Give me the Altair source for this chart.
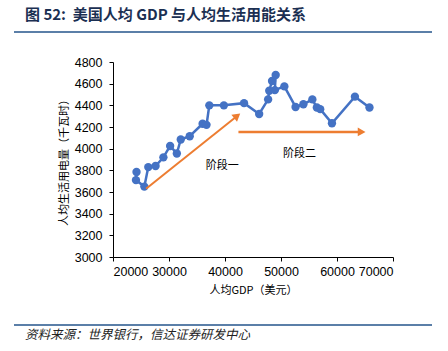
import altair as alt
import pandas as pd

# Data
gdp = [24200, 24100, 25600, 26300, 27600, 29000, 30200, 31400, 32100, 33700,
       36000, 36700, 37200, 39800, 43400, 46100, 47700, 47900, 48400, 49050,
       48900, 50600, 52600, 54000, 55600, 56400, 57000, 59100, 63200, 65800]
elec = [3785, 3710, 3650, 3830, 3840, 3920, 4025, 3955, 4085, 4115,
        4230, 4220, 4400, 4400, 4420, 4320, 4455, 4535, 4625, 4680,
        4540, 4575, 4385, 4410, 4455, 4380, 4365, 4235, 4480, 4380]

arrow_x = [25900, 42000]
arrow_y = [3630, 4295]
arrow2_x = [42400, 64400]
arrow2_y = [4155, 4155]
stage_labels = ["阶段一", "阶段二"]
stage_x = [39500, 53300]
stage_y = [3840, 3950]

x_ticks = [20000, 30000, 40000, 50000, 60000, 70000]
y_ticks = [3000, 3200, 3400, 3600, 3800, 4000, 4200, 4400, 4600, 4800]

title_text = "图 52:\u00a0\u00a0美国人均 GDP 与人均生活用能关系"
source_text = "资料来源：世界银行，信达证券研发中心"

df = pd.DataFrame({"gdp": gdp, "elec": elec, "order": list(range(len(gdp)))})
a1 = pd.DataFrame({"gdp": arrow_x, "elec": arrow_y})
a2 = pd.DataFrame({"gdp": arrow2_x, "elec": arrow2_y})
lab = pd.DataFrame({"t": stage_labels, "gdp": stage_x, "elec": stage_y})

FONT = "Liberation Sans"
CJK = "Noto Sans CJK SC"

xs = alt.Scale(domain=[20000, 70000], nice=False)
ys = alt.Scale(domain=[3000, 4800], nice=False, zero=False)

xax = alt.Axis(values=x_ticks, grid=False, format="d", labelOverlap=False,
               labelFont=FONT, labelFontSize=12.5, labelColor="#000", title="人均GDP（美元）",
               titleFont=CJK, titleFontSize=11, titleFontWeight="normal", titleColor="#000",
               domainColor="#000", tickColor="#000", tickSize=4, labelPadding=4, titlePadding=7)
yax = alt.Axis(values=y_ticks, grid=False, format="d", labelOverlap=False,
               labelFont=FONT, labelFontSize=12.5, labelColor="#000", title="人均生活用电量（千瓦时）",
               titleFont=CJK, titleFontSize=11, titleFontWeight="normal", titleColor="#000",
               domainColor="#000", tickColor="#000", tickSize=4, labelPadding=7, titlePadding=5)

X = alt.X("gdp:Q", scale=xs, axis=xax)
Y = alt.Y("elec:Q", scale=ys, axis=yax)

base = alt.Chart(df)
line = base.mark_line(color="#4472C4", strokeWidth=2.5).encode(x=X, y=Y, order="order:Q")
pts = base.mark_circle(color="#4472C4", size=70, opacity=1).encode(x=X, y=Y)

arr1 = alt.Chart(a1).mark_line(color="#ED7D31", strokeWidth=2).encode(x=X, y=Y)
arr2 = alt.Chart(a2).mark_line(color="#ED7D31", strokeWidth=2.5).encode(x=X, y=Y)

head1 = alt.Chart(a1.iloc[[1]]).mark_point(shape="triangle", filled=True, color="#ED7D31",
                                           size=80, opacity=1, angle=51).encode(x=X, y=Y)
head2 = alt.Chart(a2.iloc[[1]]).mark_point(shape="triangle-right", filled=True, color="#ED7D31",
                                           size=80, opacity=1).encode(x=X, y=Y)

labels = alt.Chart(lab).mark_text(font=CJK, fontSize=11, color="#000").encode(
    x=X, y=Y, text="t:N")

deco = pd.DataFrame({"a": [0]})
title = alt.Chart(deco).mark_text(text=title_text, font=CJK, fontSize=15, fontWeight="bold",
                                  color="#1B2F52", align="left", baseline="middle").encode(
    x=alt.value(-88), y=alt.value(-47))
tline = alt.Chart(deco).mark_rule(color="#5B7FA8", strokeWidth=2).encode(
    x=alt.value(-99), x2=alt.value(319), y=alt.value(-30))
bline = alt.Chart(deco).mark_rule(color="#5B7FA8", strokeWidth=2).encode(
    x=alt.value(-99), x2=alt.value(319), y=alt.value(263))
src = alt.Chart(deco).mark_text(text=source_text, font=CJK, fontSize=12.5, fontStyle="italic",
                                color="#222", align="left", baseline="middle").encode(
    x=alt.value(-88), y=alt.value(273))

chart = alt.layer(line, pts, arr1, arr2, head1, head2, labels, title, tline, bline, src).properties(
    width=280, height=195,
    background="white",
    autosize=alt.AutoSizeParams(type="none"),
    padding={"left": 113, "top": 62, "right": 55, "bottom": 94},
).configure_view(stroke=None)

chart.save("out.html", embed_options={"renderer": "svg", "actions": False})
